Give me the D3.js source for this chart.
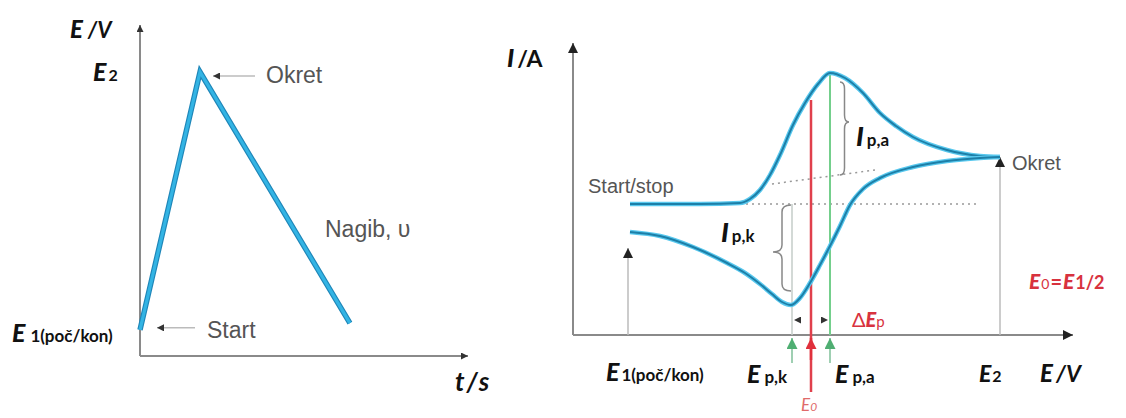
<!DOCTYPE html>
<html>
<head>
<meta charset="utf-8">
<script src="https://cdn.jsdelivr.net/npm/d3@7"></script>
<style>
body { margin: 0; background: #fff; }
.lab { font-family: Lato, "Open Sans", sans-serif; font-weight: bold; fill: #111; }
.note { font-family: "Liberation Sans", Arial, sans-serif; fill: #555; }
</style>
</head>
<body>
<div id="fig"></div>
<script>
// left panel: potential program E(t)
var triTime = [0, 0.183, 0.64];
var triPot = [0.092, 1, 0.116];

// right panel: voltammogram, forward (anodic) and reverse scan
var fwdE = [0.114, 0.254, 0.334, 0.354, 0.374, 0.394, 0.414, 0.440, 0.464, 0.490, 0.514, 0.544, 0.580, 0.614, 0.646, 0.680, 0.748, 0.814, 0.854];
var fwdI = [0, 0, 0.01, 0.05, 0.14, 0.29, 0.49, 0.79, 1.01, 1.20, 1.31, 1.26, 1.11, 0.91, 0.78, 0.67, 0.54, 0.48, 0.47];
var revE = [0.854, 0.814, 0.748, 0.680, 0.614, 0.580, 0.554, 0.534, 0.514, 0.494, 0.474, 0.454, 0.436, 0.418, 0.398, 0.374, 0.344, 0.308, 0.240, 0.174, 0.114];
var revI = [0.47, 0.46, 0.43, 0.37, 0.26, 0.15, -0.01, -0.22, -0.42, -0.61, -0.79, -0.94, -1.01, -0.98, -0.90, -0.80, -0.69, -0.59, -0.43, -0.32, -0.28];

// key potentials
var potNames = ["E1", "Epk", "E0", "Epa", "E2"];
var potValues = [0.11, 0.438, 0.476, 0.514, 0.854];
var peakI = [-1.01, 1.31]; // Ip,k  Ip,a
var E0curveI = 1.04;

var fw = 1126, fh = 418;

var svg = d3.select("#fig")
	.append("svg")
	.attr("width", fw)
	.attr("height", fh);

var defs = svg.append("defs");
function marker(id, size, color) {
	defs.append("marker")
		.attr("id", id)
		.attr("viewBox", "0 0 10 10")
		.attr("refX", 10).attr("refY", 5)
		.attr("markerUnits", "userSpaceOnUse")
		.attr("markerWidth", size).attr("markerHeight", size)
		.attr("orient", "auto")
		.append("path")
		.attr("d", "M0,0 L10,5 L0,10 z")
		.attr("fill", color);
}
marker("ah", 10, "#222");
marker("ahs", 7, "#333");
marker("ahr", 11, "#e0303c");
marker("ahg", 11, "#4fae72");

function get(n) { return potValues[potNames.indexOf(n)]; }

function label(x, y, parts, cls) {
	var t = svg.append("text")
		.attr("class", cls || "lab")
		.attr("x", x).attr("y", y);
	parts.forEach(function(p) {
		t.append("tspan")
			.attr("font-size", p.s)
			.attr("font-style", p.i ? "italic" : "normal")
			.attr("font-weight", p.w || null)
			.attr("fill", p.c || null)
			.attr("dx", p.dx || 0)
			.text(p.t);
	});
	return t;
}

// ---------- left panel ----------
var xL = d3.scaleLinear().domain([0, 1]).range([140, 468]);
var yL = d3.scaleLinear().domain([0, 1]).range([356, 72]);

svg.append("line")
	.attr("x1", xL(0)).attr("y1", yL(0))
	.attr("x2", xL(0)).attr("y2", 25)
	.attr("stroke", "#8a8a8a").attr("stroke-width", 2)
	.attr("marker-end", "url(#ahs)");
svg.append("line")
	.attr("x1", xL(0)).attr("y1", yL(0))
	.attr("x2", xL(1)).attr("y2", yL(0))
	.attr("stroke", "#8a8a8a").attr("stroke-width", 2)
	.attr("marker-end", "url(#ahs)");

var triLine = d3.line()
	.x(function(d) { return xL(d[0]); })
	.y(function(d) { return yL(d[1]); });
var tri = d3.zip(triTime, triPot);
svg.append("path").datum(tri)
	.attr("d", triLine).attr("fill", "none")
	.attr("stroke", "#1f86b8").attr("stroke-width", 5.5);
svg.append("path").datum(tri)
	.attr("d", triLine).attr("fill", "none")
	.attr("stroke", "#33b4e4").attr("stroke-width", 3.2);

// small pointer arrows
svg.append("line")
	.attr("x1", xL(triTime[1]) + 55).attr("y1", yL(triPot[1]) + 4)
	.attr("x2", xL(triTime[1]) + 13).attr("y2", yL(triPot[1]) + 4)
	.attr("stroke", "#bbb").attr("stroke-width", 1.5)
	.attr("marker-end", "url(#ahs)");
svg.append("line")
	.attr("x1", xL(0) + 55).attr("y1", yL(triPot[0]) - 2)
	.attr("x2", xL(0) + 17).attr("y2", yL(triPot[0]) - 2)
	.attr("stroke", "#bbb").attr("stroke-width", 1.5)
	.attr("marker-end", "url(#ahs)");

label(70, 38, [{t: "E", s: 24, i: true, w: 900}, {t: " /V", s: 22, i: true}]);
label(93, 81, [{t: "E", s: 25, i: true, w: 900}, {t: "2", s: 16, dx: 2}]);
label(12, 342, [{t: "E", s: 25, i: true, w: 900}, {t: "1(poč/kon)", s: 17, dx: 5}]);
label(455, 391, [{t: "t/s", s: 26, i: true}]).attr("letter-spacing", 2);
label(266, 83, [{t: "Okret", s: 23}], "note");
label(325, 237, [{t: "Nagib, υ", s: 23}], "note");
label(207, 338, [{t: "Start", s: 23}], "note");

// ---------- right panel ----------
var xR = d3.scaleLinear().domain([0, 1]).range([573, 1073]);
var yR = d3.scaleLinear().domain([-1.31, 1.61]).range([335, 43]);

svg.append("line")
	.attr("x1", xR(0)).attr("y1", yR(-1.31))
	.attr("x2", xR(0)).attr("y2", yR(1.61))
	.attr("stroke", "#8a8a8a").attr("stroke-width", 2)
	.attr("marker-end", "url(#ah)");
svg.append("line")
	.attr("x1", xR(0)).attr("y1", yR(-1.31))
	.attr("x2", xR(1)).attr("y2", yR(-1.31))
	.attr("stroke", "#8a8a8a").attr("stroke-width", 2)
	.attr("marker-end", "url(#ah)");

// dotted baselines
svg.append("line")
	.attr("x1", xR(0.334)).attr("y1", yR(0))
	.attr("x2", xR(0.814)).attr("y2", yR(0))
	.attr("stroke", "#999").attr("stroke-width", 1.5)
	.attr("stroke-dasharray", "2,4");
svg.append("line")
	.attr("x1", xR(0.398)).attr("y1", yR(0.20))
	.attr("x2", xR(0.604)).attr("y2", yR(0.34))
	.attr("stroke", "#999").attr("stroke-width", 1.5)
	.attr("stroke-dasharray", "2,4");

// E1 and E2 markers
[get("E1"), get("E2")].forEach(function(e, i) {
	svg.append("line")
		.attr("x1", xR(e)).attr("y1", yR(-1.31))
		.attr("x2", xR(e)).attr("y2", i == 0 ? yR(-0.44) : yR(0.47))
		.attr("stroke", "#bbb").attr("stroke-width", 1.5)
		.attr("marker-end", "url(#ah)");
});

// Ep,k helper line
svg.append("line")
	.attr("x1", xR(get("Epk"))).attr("y1", yR(-1.31))
	.attr("x2", xR(get("Epk"))).attr("y2", yR(0))
	.attr("stroke", "#c4ccc8").attr("stroke-width", 1.5);

// Ep,a green line
svg.append("line")
	.attr("x1", xR(get("Epa"))).attr("y1", yR(-1.31))
	.attr("x2", xR(get("Epa"))).attr("y2", yR(peakI[1]))
	.attr("stroke", "#74cf8c").attr("stroke-width", 2);

// E0 red line
svg.append("line")
	.attr("x1", xR(get("E0"))).attr("y1", 392)
	.attr("x2", xR(get("E0"))).attr("y2", yR(E0curveI))
	.attr("stroke", "#e0404c").attr("stroke-width", 2.5);

// curves
var cvLine = d3.line()
	.x(function(d) { return xR(d[0]); })
	.y(function(d) { return yR(d[1]); })
	.curve(d3.curveMonotoneX);
var fwd = d3.zip(fwdE, fwdI);
var rev = d3.zip(revE, revI).reverse();
[fwd, rev].forEach(function(c) {
	svg.append("path").datum(c)
		.attr("d", cvLine).attr("fill", "none")
		.attr("stroke", "#58c8ee").attr("stroke-width", 4.5);
	svg.append("path").datum(c)
		.attr("d", cvLine).attr("fill", "none")
		.attr("stroke", "#1d7fa8").attr("stroke-width", 2);
});

// arrows under axis
svg.append("line")
	.attr("x1", xR(get("E0"))).attr("y1", 360)
	.attr("x2", xR(get("E0"))).attr("y2", 338)
	.attr("stroke", "#e0303c").attr("stroke-width", 2.5)
	.attr("marker-end", "url(#ahr)");
[get("Epk"), get("Epa")].forEach(function(e) {
	svg.append("line")
		.attr("x1", xR(e)).attr("y1", 363)
		.attr("x2", xR(e)).attr("y2", 338)
		.attr("stroke", "#7fbf98").attr("stroke-width", 1.5)
		.attr("marker-end", "url(#ahg)");
});

// delta Ep heads
svg.append("line")
	.attr("x1", xR(get("Epk")) + 9).attr("y1", 320)
	.attr("x2", xR(get("Epk")) + 2).attr("y2", 320)
	.attr("stroke", "none").attr("marker-end", "url(#ahs)");
svg.append("line")
	.attr("x1", xR(get("Epa")) - 9).attr("y1", 320)
	.attr("x2", xR(get("Epa")) - 2).attr("y2", 320)
	.attr("stroke", "none").attr("marker-end", "url(#ahs)");

// braces
function brace(x0, y1, y2, xt, yt) {
	var h = (xt - x0) / 2, r = 7;
	var p = d3.path();
	p.moveTo(x0, y1);
	p.quadraticCurveTo(x0 + h, y1, x0 + h, y1 + r);
	p.lineTo(x0 + h, yt - r);
	p.quadraticCurveTo(x0 + h, yt, xt, yt);
	p.quadraticCurveTo(x0 + h, yt, x0 + h, yt + r);
	p.lineTo(x0 + h, y2 - r);
	p.quadraticCurveTo(x0 + h, y2, x0, y2);
	return p.toString();
}
svg.append("path")
	.attr("d", brace(xR(get("Epa")) + 10, yR(1.22), yR(0.29), xR(get("Epa")) + 19, yR(0.82)))
	.attr("fill", "none").attr("stroke", "#888").attr("stroke-width", 1.5);
svg.append("path")
	.attr("d", brace(xR(get("Epk")) - 1, yR(-0.01), yR(-0.87), xR(get("Epk")) - 19, yR(-0.48)))
	.attr("fill", "none").attr("stroke", "#888").attr("stroke-width", 1.5);

// texts
label(507, 67, [{t: "I", s: 25, i: true, w: 900}, {t: "/A", s: 23, dx: 3}]);
label(588, 193, [{t: "Start/stop", s: 20}], "note");
label(1012, 170, [{t: "Okret", s: 20}], "note");
label(856, 146, [{t: "I", s: 27, i: true, w: 900}, {t: "p,a", s: 17, dx: 3}]);
label(721, 242, [{t: "I", s: 27, i: true, w: 900}, {t: "p,k", s: 17, dx: 3}]);
label(1029, 289, [{t: "E", s: 21, i: true, w: 900, c: "#d8323e"}, {t: "0", s: 14, w: 400, c: "#d8323e", dx: 1},
	{t: "=", s: 20, c: "#d8323e", dx: 1}, {t: "E", s: 21, i: true, w: 900, c: "#d8323e", dx: 1}, {t: "1/2", s: 18, c: "#d8323e", dx: 1}]);
label(852, 327, [{t: "Δ", s: 20, w: 400, c: "#d8323e"}, {t: "E", s: 20, i: true, w: 900, c: "#d8323e"}, {t: "p", s: 15, w: 400, c: "#d8323e"}]);
label(606, 381, [{t: "E", s: 25, i: true, w: 900}, {t: "1(poč/kon)", s: 17, dx: 2}]);
label(747, 383, [{t: "E", s: 25, i: true, w: 900}, {t: "p,k", s: 17, dx: 4}]);
label(835, 383, [{t: "E", s: 25, i: true, w: 900}, {t: "p,a", s: 17, dx: 4}]);
label(979, 382, [{t: "E", s: 23, i: true, w: 900}, {t: "2", s: 16, dx: 1}]);
label(1040, 382, [{t: "E", s: 24, i: true, w: 900}, {t: "/V", s: 23, i: true, dx: 3}]);
label(801, 411, [{t: "E", s: 17, i: true, w: 400, c: "#e06a6a"}, {t: "0", s: 12, i: true, w: 400, c: "#e06a6a"}]);
</script>
</body>
</html>
